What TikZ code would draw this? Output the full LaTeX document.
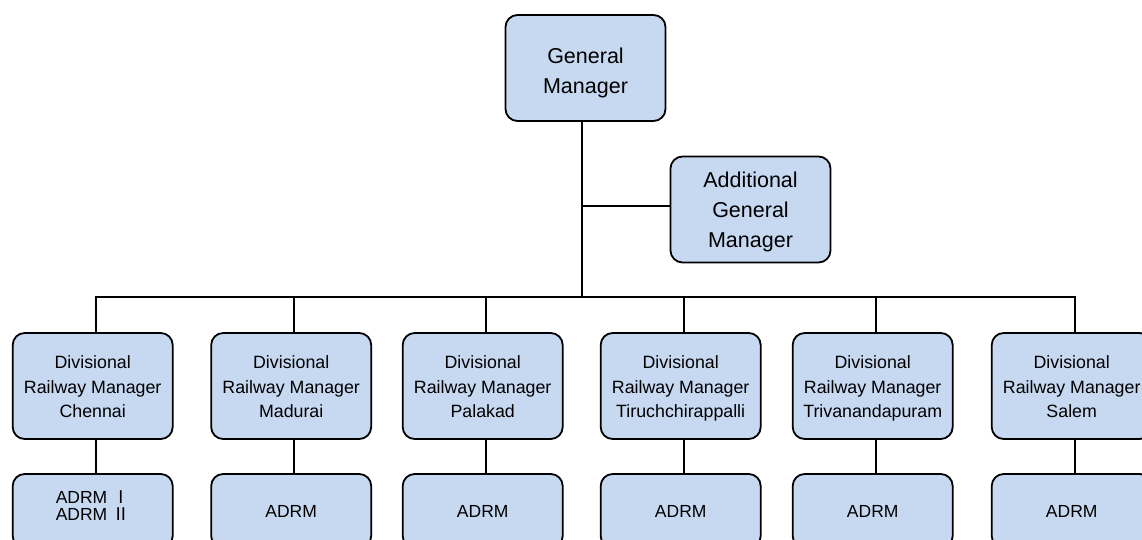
\documentclass[tikz,border=0pt]{standalone}
\usepackage{fontspec}
\setmainfont{Liberation Sans}
\newfontfamily\cjkfont{Noto Sans CJK JP}
\definecolor{boxfill}{RGB}{198,217,241}
\tikzset{
  orgbox/.style={draw=black, line width=1.8pt, fill=boxfill, rounded corners=12pt,
    minimum width=160pt, inner sep=0pt},
  bigbox/.style={orgbox, minimum height=106pt},
  smallbox/.style={orgbox, minimum height=74pt},
  txt/.style={align=center, inner sep=0pt,
    execute at begin node=\strut, execute at end node=\strut},
  toptxt/.style={txt, font=\fontsize{21.5}{30}\selectfont},
  drmtxt/.style={txt, font=\fontsize{17.8}{24.5}\selectfont},
  adrmtxt/.style={txt, font=\fontsize{17.5}{17}\selectfont},
  link/.style={line width=1.8pt}
}
\begin{document}
\begin{tikzpicture}[x=1pt, y=-1pt]
  \path[use as bounding box] (0,0) rectangle (1142,540);
  \clip (0,0) rectangle (1142,540);

  % top of the hierarchy
  \node[bigbox] (gm)  at (585.5,68) {};
  \node[toptxt] (gmt) at ([yshift=-7pt]gm.center) {General\\Manager};
  \node[bigbox] (agm) at (750.5,209.5) {};
  \node[toptxt] (agmt) at ([yshift=-4.5pt]agm.center) {Additional\\General\\Manager};

  % divisional managers and their additional managers
  \foreach \i/\x/\city in {1/92.7/Chennai, 2/291.2/Madurai, 3/482.7/Palakad,
      4/680.7/Tiruchchirappalli, 5/872.7/Trivanandapuram, 6/1071.7/Salem} {
    \node[bigbox] (d\i) at (\x,386) {};
    \node[drmtxt] (d\i t) at ([yshift=-4.5pt]d\i.center)
      {Divisional\\Railway Manager\\\city};
    \node[smallbox] (a\i) at (\x,511) {};
  }
  \node[adrmtxt, execute at begin node={}, execute at end node={}]
    (a1t) at ([yshift=2.7pt]a1.center) {ADRM {\cjkfont Ⅰ}\\ADRM {\cjkfont Ⅱ}};
  \foreach \i in {2,...,6}
    \node[adrmtxt] (a\i t) at ([yshift=-3pt]a\i.center) {ADRM};

  % trunk and branches
  \coordinate (trunk) at ([xshift=-3.5pt]gm.south);
  \coordinate (bus)   at (trunk |- 0,297);
  \coordinate (side)  at (trunk |- 0,206);
  \draw[link] (trunk) -- (bus);
  \draw[link] (side) -- (agm.west |- side);
  \draw[link, line cap=rect] ([xshift=3pt]d1.north |- bus) -- ([xshift=3pt]d6.north |- bus);
  \foreach \i in {1,...,6} {
    \draw[link] ([xshift=3pt]d\i.north |- bus) -- ([xshift=3pt]d\i.north);
    \draw[link] ([xshift=3pt]d\i.south) -- ([xshift=3pt]d\i.south |- a\i.north);
  }
\end{tikzpicture}
\end{document}
